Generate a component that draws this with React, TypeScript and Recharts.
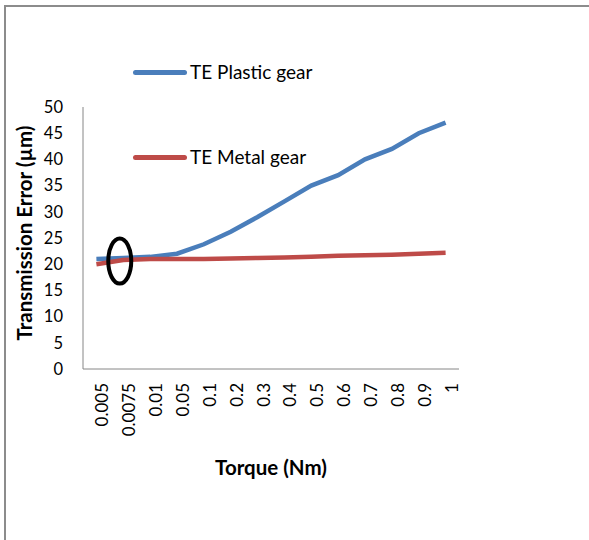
import React from 'react';
import { LineChart, Line, XAxis, YAxis, Legend, ReferenceDot } from 'recharts';

// torque steps (Nm) and the transmission error of each gear (µm)
const torque = ['0.005', '0.0075', '0.01', '0.05', '0.1', '0.2', '0.3', '0.4', '0.5', '0.6', '0.7', '0.8', '0.9', '1'];
const plasticTE = [21, 21.2, 21.4, 22, 23.8, 26.2, 29, 32, 35, 37, 40, 42, 45, 47];
const metalTE = [20, 20.8, 21, 21, 21, 21.1, 21.2, 21.3, 21.4, 21.6, 21.7, 21.8, 22, 22.2];
const yTicks = [0, 5, 10, 15, 20, 25, 30, 35, 40, 45, 50];

// circled region where the two curves meet
const markTorque = '0.0075';
const markTE = 20.6;

const data = torque.map((t, i) => ({ torque: t, plastic: plasticTE[i], metal: metalTE[i] }));

const FONT = 'Lato, "Noto Sans", sans-serif';
const legendTops: Record<string, number> = { 'TE Plastic gear': 60, 'TE Metal gear': 145 };

const GearLegend = ({ payload }: any) => (
  <div style={{ position: 'relative', width: 0, height: 0 }}>
    {(payload || []).map((entry: any) => (
      <div
        key={entry.value}
        style={{
          position: 'absolute',
          left: 133,
          top: legendTops[entry.value],
          display: 'flex',
          alignItems: 'center',
          whiteSpace: 'nowrap',
          fontFamily: FONT,
          fontSize: 19,
          lineHeight: '24px',
          color: '#000',
        }}
      >
        <span style={{ display: 'inline-block', width: 54, height: 5, borderRadius: 3, background: entry.color, marginRight: 3 }} />
        {entry.value}
      </div>
    ))}
  </div>
);

const Ellipse = (props: any) => (
  <ellipse cx={props.cx - 3.5} cy={props.cy} rx={11.5} ry={22.5} fill="none" stroke="#000" strokeWidth={4} />
);

export default function App() {
  return (
    <div style={{ position: 'absolute', left: 0, top: 0, width: 589, height: 540, background: '#fff', overflow: 'hidden' }}>
      <div
        style={{
          position: 'absolute',
          left: 4,
          top: 5,
          width: 600,
          height: 560,
          borderLeft: '2px solid #8c8c8c',
          borderTop: '2px solid #8c8c8c',
        }}
      />
      <LineChart
        width={589}
        height={540}
        data={data}
        margin={{ top: 107, right: 130, bottom: 61, left: 23 }}
        style={{ fontFamily: FONT }}
      >
        <XAxis
          dataKey="torque"
          height={110}
          padding={{ left: 13.4, right: 13.4 }}
          stroke="#868686"
          tickLine={false}
          tickSize={0}
          tickMargin={14}
          interval={0}
          tick={{ angle: -90, textAnchor: 'end', verticalAnchor: 'middle', fill: '#000', fontSize: 17 } as any}
          label={{ value: 'Torque (Nm)', position: 'center', dy: 44, fill: '#000', fontSize: 20.5, fontWeight: 'bold' }}
        />
        <YAxis
          width={60}
          domain={[0, 50]}
          ticks={yTicks}
          stroke="#868686"
          tickLine={false}
          tickSize={0}
          tickMargin={20}
          tick={{ fill: '#000', fontSize: 16.5 }}
          label={{
            value: 'Transmission Error (µm)',
            angle: -90,
            position: 'center',
            dx: -28,
            dy: -5,
            fill: '#000',
            fontSize: 20.5,
            fontWeight: 'bold',
          }}
        />
        <Legend
          layout="vertical"
          align="center"
          verticalAlign="middle"
          wrapperStyle={{ left: 0, top: 0, width: 0, height: 0 }}
          content={<GearLegend />}
        />
        <Line
          type="linear"
          dataKey="plastic"
          name="TE Plastic gear"
          stroke="#4A7EBB"
          strokeWidth={4.5}
          dot={false}
          isAnimationActive={false}
        />
        <Line
          type="linear"
          dataKey="metal"
          name="TE Metal gear"
          stroke="#BE4B48"
          strokeWidth={4.5}
          dot={false}
          isAnimationActive={false}
        />
        <ReferenceDot x={markTorque} y={markTE} shape={<Ellipse />} />
      </LineChart>
    </div>
  );
}
